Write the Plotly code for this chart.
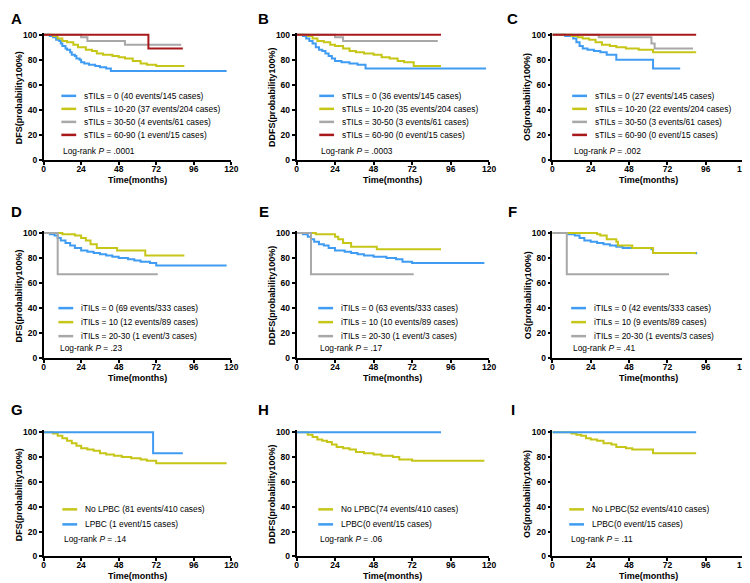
import plotly.graph_objects as go

FONT = "Arial, Liberation Sans, sans-serif"
BLUE = "#3f9cf2"
YELLOW = "#c6c619"
GREY = "#a8a8a8"
RED = "#a8191c"

X_TICKS = [0, 24, 48, 72, 96, 120]
Y_TICKS = [0, 20, 40, 60, 80, 100]

# ---- A: DFS by sTILs
A_0_T = [0, 4, 6, 8, 10, 11, 12, 14, 15, 17, 18, 20, 21, 23, 24, 26, 29, 33, 36, 40, 43, 117]
A_0_S = [100, 99, 98, 96, 95, 93, 91, 89, 88, 86, 84, 83, 81, 80, 78, 77, 76, 75, 74, 73, 71, 71]
A_1_T = [0, 6, 9, 12, 15, 19, 22, 27, 31, 34, 38, 44, 48, 52, 57, 62, 66, 72, 90]
A_1_S = [100, 99, 97, 95, 94, 92, 90, 88, 87, 85, 84, 83, 82, 81, 79, 77, 76, 75, 75]
A_2_T = [0, 24, 28, 52, 88]
A_2_S = [100, 98, 95, 92, 92]
A_3_T = [0, 67, 89]
A_3_S = [100, 89, 89]

# ---- B: DDFS by sTILs
B_0_T = [0, 4, 6, 8, 10, 12, 14, 16, 18, 20, 22, 24, 28, 33, 38, 43, 118]
B_0_S = [100, 99, 97, 95, 93, 90, 88, 87, 85, 83, 81, 79, 78, 77, 76, 73, 73]
B_1_T = [0, 7, 10, 13, 17, 21, 24, 29, 33, 37, 42, 48, 53, 58, 63, 67, 73, 90]
B_1_S = [100, 99, 97, 95, 94, 92, 91, 89, 87, 86, 85, 84, 82, 81, 79, 78, 75, 75]
B_2_T = [0, 24, 29, 88]
B_2_S = [100, 98, 95, 95]
B_3_T = [0, 90]
B_3_S = [100, 100]

# ---- C: OS by sTILs
C_0_T = [0, 8, 13, 15, 17, 19, 22, 26, 30, 34, 40, 63, 80]
C_0_S = [100, 99, 97, 94, 91, 89, 88, 87, 86, 84, 80, 73, 73]
C_1_T = [0, 12, 16, 19, 23, 27, 31, 36, 40, 46, 54, 63, 90]
C_1_S = [100, 99, 98, 97, 96, 94, 92, 91, 90, 89, 88, 86, 86]
C_2_T = [0, 29, 62, 64, 88]
C_2_S = [100, 98, 93, 89, 89]
C_3_T = [0, 90]
C_3_S = [100, 100]

# ---- D: DFS by iTILs
D_0_T = [0, 4, 7, 9, 11, 14, 17, 20, 24, 28, 32, 36, 40, 44, 48, 54, 58, 62, 68, 72, 117]
D_0_S = [100, 99, 98, 96, 94, 92, 90, 88, 86, 85, 84, 83, 82, 81, 80, 79, 78, 77, 76, 74, 74]
D_1_T = [0, 12, 20, 24, 27, 30, 34, 47, 65, 90]
D_1_S = [100, 99, 98, 96, 94, 91, 88, 86, 82, 82]
D_2_T = [0, 9, 73]
D_2_S = [100, 67, 67]

# ---- E: DDFS by iTILs
E_0_T = [0, 4, 7, 9, 11, 14, 17, 20, 24, 30, 34, 38, 42, 48, 56, 62, 66, 72, 117]
E_0_S = [100, 99, 97, 95, 93, 91, 90, 88, 86, 85, 84, 83, 82, 81, 80, 79, 77, 76, 76]
E_1_T = [0, 12, 24, 26, 29, 34, 50, 90]
E_1_S = [100, 99, 97, 95, 92, 89, 87, 87]
E_2_T = [0, 9, 73]
E_2_S = [100, 67, 67]

# ---- F: OS by iTILs
F_0_T = [0, 10, 14, 17, 20, 24, 28, 32, 36, 40, 44, 62, 63, 90]
F_0_S = [100, 99, 98, 96, 94, 93, 92, 91, 90, 89, 88, 87, 84, 83]
F_1_T = [0, 28, 30, 34, 40, 41, 50, 63, 90]
F_1_S = [100, 99, 98, 95, 93, 90, 88, 84, 84]
F_2_T = [0, 9, 73]
F_2_S = [100, 67, 67]

# ---- G: DFS by LPBC
G_0_T = [0, 6, 9, 12, 15, 18, 21, 24, 28, 32, 36, 40, 45, 50, 56, 62, 66, 72, 117]
G_0_S = [100, 99, 97, 95, 93, 91, 89, 87, 86, 85, 83, 82, 81, 80, 79, 78, 77, 75, 75]
G_1_T = [0, 70, 89]
G_1_S = [100, 83, 83]

# ---- H: DDFS by LPBC
H_0_T = [0, 7, 10, 13, 16, 19, 22, 25, 29, 33, 37, 42, 48, 53, 60, 64, 72, 117]
H_0_S = [100, 98, 96, 94, 93, 92, 90, 88, 87, 86, 84, 83, 82, 81, 80, 78, 77, 77]
H_1_T = [0, 90]
H_1_S = [100, 100]

# ---- I: OS by LPBC
I_0_T = [0, 12, 15, 18, 21, 24, 28, 32, 37, 40, 46, 50, 63, 90]
I_0_S = [100, 99, 98, 97, 95, 94, 93, 91, 90, 88, 87, 86, 83, 83]
I_1_T = [0, 90]
I_1_S = [100, 100]

S_LABELS_A = ["sTILs = 0 (40 events/145 cases)", "sTILs = 10-20 (37 events/204 cases)",
              "sTILs = 30-50 (4 events/61 cases)", "sTILs = 60-90 (1 event/15 cases)"]
S_LABELS_B = ["sTILs = 0 (36 events/145 cases)", "sTILs = 10-20 (35 events/204 cases)",
              "sTILs = 30-50 (3 events/61 cases)", "sTILs = 60-90 (0 event/15 cases)"]
S_LABELS_C = ["sTILs = 0 (27 events/145 cases)", "sTILs = 10-20 (22 events/204 cases)",
              "sTILs = 30-50 (3 events/61 cases)", "sTILs = 60-90 (0 event/15 cases)"]
I_LABELS_D = ["iTILs = 0 (69 events/333 cases)", "iTILs = 10 (12 events/89 cases)",
              "iTILs = 20-30 (1 event/3 cases)"]
I_LABELS_E = ["iTILs = 0 (63 events/333 cases)", "iTILs = 10 (10 events/89 cases)",
              "iTILs = 20-30 (1 event/3 cases)"]
I_LABELS_F = ["iTILs = 0 (42 events/333 cases)", "iTILs = 10 (9 events/89 cases)",
              "iTILs = 20-30 (1 events/3 cases)"]
L_LABELS_G = ["No LPBC (81 events/410 cases)", "LPBC (1 event/15 cases)"]
L_LABELS_H = ["No LPBC(74 events/410 cases)", "LPBC(0 event/15 cases)"]
L_LABELS_I = ["No LPBC(52 events/410 cases)", "LPBC(0 event/15 cases)"]

P_VALUES = [".0001", ".0003", ".002", ".23", ".17", ".41", ".14", ".06", ".11"]
ENDPOINTS = ["DFS", "DDFS", "OS", "DFS", "DDFS", "OS", "DFS", "DDFS", "OS"]
LETTERS = ["A", "B", "C", "D", "E", "F", "G", "H", "I"]

PANELS = [
    [(A_0_T, A_0_S), (A_1_T, A_1_S), (A_2_T, A_2_S), (A_3_T, A_3_S)],
    [(B_0_T, B_0_S), (B_1_T, B_1_S), (B_2_T, B_2_S), (B_3_T, B_3_S)],
    [(C_0_T, C_0_S), (C_1_T, C_1_S), (C_2_T, C_2_S), (C_3_T, C_3_S)],
    [(D_0_T, D_0_S), (D_1_T, D_1_S), (D_2_T, D_2_S)],
    [(E_0_T, E_0_S), (E_1_T, E_1_S), (E_2_T, E_2_S)],
    [(F_0_T, F_0_S), (F_1_T, F_1_S), (F_2_T, F_2_S)],
    [(G_0_T, G_0_S), (G_1_T, G_1_S)],
    [(H_0_T, H_0_S), (H_1_T, H_1_S)],
    [(I_0_T, I_0_S), (I_1_T, I_1_S)],
]
LABELS = [S_LABELS_A, S_LABELS_B, S_LABELS_C, I_LABELS_D, I_LABELS_E, I_LABELS_F,
          L_LABELS_G, L_LABELS_H, L_LABELS_I]
COLORS = [[BLUE, YELLOW, GREY, RED]] * 3 + [[BLUE, YELLOW, GREY]] * 3 + [[YELLOW, BLUE]] * 3

# layout in pixels
W, H = 750, 583
COL_X = [(34, 224), (290, 485), (549, 743)]
ROW_Y = [(24, 151), (225, 352), (427, 553)]
LEG_X0 = [18, 23, 20, 15, 22, 19, 19, 22, 17]
ROW_LEG = [(64, 13, 9), (50, 14, 10), (47, 15, 17)]  # first row above bottom, gap, log-rank
LETTER_X = [7, 257, 509]
LETTER_Y = [8, 203, 404]
YPAD = 1.5  # headroom so the 100% line isn't clipped


def px(x):
    return x / W


def py(y):
    return 1 - y / H


fig = go.Figure()
layout = {}
shapes, annotations = [], []

for k, curves in enumerate(PANELS):
    r, c = divmod(k, 3)
    n = "" if k == 0 else str(k + 1)
    xa, ya = "x" + n, "y" + n
    x0, x1 = COL_X[c]
    ytop, ybot = ROW_Y[r]
    ytop_ext = ytop - (ybot - ytop) * YPAD / 100
    pw, ph = x1 - x0, ybot - ytop

    for (t, s), col, lab in zip(curves, COLORS[k], LABELS[k]):
        fig.add_trace(go.Scatter(
            x=t, y=s, mode="lines", line=dict(color=col, width=2, shape="hv"),
            xaxis=xa, yaxis=ya, name=lab, showlegend=False, hoverinfo="skip",
        ))

    axis_common = dict(
        showline=True, linecolor="black", linewidth=1.5, ticks="outside",
        ticklen=3, tickwidth=1.5, tickcolor="black", showgrid=False, zeroline=False,
        tickfont=dict(family=FONT, size=8.5, color="black", weight="bold"),
    )
    layout["xaxis" + n] = dict(
        axis_common, domain=[px(x0), px(x1)], range=[0, 120], tickvals=X_TICKS,
        anchor=ya, ticklabelstandoff=-3,
    )
    layout["yaxis" + n] = dict(
        axis_common, domain=[py(ybot), py(ytop_ext)], range=[0, 100 + YPAD],
        tickvals=Y_TICKS, anchor=xa,
    )

    # legend drawn inside the plot area
    first, gap, lr = ROW_LEG[r]
    lx = LEG_X0[k]
    for i, (col, lab) in enumerate(zip(COLORS[k], LABELS[k])):
        yy = (first - i * gap) / ph
        shapes.append(dict(
            type="line", xref=xa + " domain", yref=ya + " domain",
            x0=lx / pw, x1=(lx + 15) / pw, y0=yy, y1=yy,
            line=dict(color=col, width=2.5),
        ))
        annotations.append(dict(
            xref=xa + " domain", yref=ya + " domain", x=(lx + 21) / pw, y=yy,
            text=lab, showarrow=False, xanchor="left", yanchor="middle",
            font=dict(family=FONT, size=8.4, color="black"),
        ))
    annotations.append(dict(
        xref=xa + " domain", yref=ya + " domain", x=lx / pw, y=lr / ph,
        text="Log-rank <i>P</i> = " + P_VALUES[k], showarrow=False,
        xanchor="left", yanchor="middle", font=dict(family=FONT, size=8.4, color="black"),
    ))

    # axis titles and panel letter
    annotations.append(dict(
        xref="paper", yref="paper", x=px((x0 + x1) / 2), y=py(ybot + 20),
        text="Time(months)", showarrow=False, xanchor="center", yanchor="middle",
        font=dict(family=FONT, size=9, color="black", weight="bold"),
    ))
    annotations.append(dict(
        xref="paper", yref="paper", x=px(x0 - 25), y=py((ytop + ybot) / 2),
        text=ENDPOINTS[k] + "(probability100%)", showarrow=False, textangle=-90,
        xanchor="center", yanchor="middle",
        font=dict(family=FONT, size=9, color="black", weight="bold"),
    ))
    annotations.append(dict(
        xref="paper", yref="paper", x=px(LETTER_X[c]), y=py(LETTER_Y[r]),
        text=LETTERS[k], showarrow=False, xanchor="center", yanchor="middle",
        font=dict(family=FONT, size=15, color="black", weight="bold"),
    ))

fig.update_layout(
    width=W, height=H, margin=dict(l=0, r=0, t=0, b=0),
    paper_bgcolor="white", plot_bgcolor="white", showlegend=False,
    shapes=shapes, annotations=annotations, **layout,
)
fig.write_html("out.html")
